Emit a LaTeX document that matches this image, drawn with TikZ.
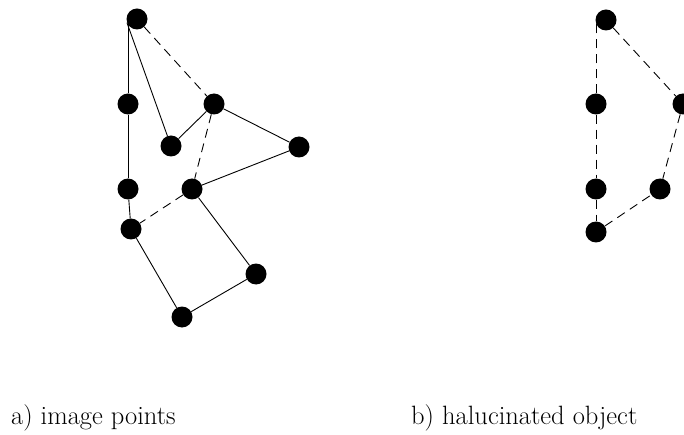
\documentclass[tikz,border=0pt]{standalone}
\begin{document}
\begin{tikzpicture}[x=1pt,y=-1pt,
  dot/.style={circle,fill=black,inner sep=0pt,minimum size=21pt},
  edge/.style={line width=0.9pt},
  dedge/.style={line width=0.9pt,dash pattern=on 9pt off 6pt},
  lbl/.style={anchor=base west,inner sep=0pt,font=\fontsize{26.5}{30}\selectfont}]
\useasboundingbox (0,0) rectangle (684,435);
% left graph
\node[dot] (A) at (137,19) {};
\node[dot] (B) at (128,104) {};
\node[dot] (C) at (214,104) {};
\node[dot] (D) at (171,146) {};
\node[dot] (E) at (299,147) {};
\node[dot] (F) at (128,189) {};
\node[dot] (G) at (192,189) {};
\node[dot] (H) at (131,229) {};
\node[dot] (I) at (256,274) {};
\node[dot] (J) at (182,317) {};
\coordinate (Atop) at (B |- A);
\draw[edge] (B) -- (Atop);
\draw[edge] (A.200) -- (D);
\draw[edge] (D) -- (C);
\draw[edge] (C) -- (E);
\draw[edge] (E) -- (G);
\draw[edge] (B) -- (F);
\draw[edge] (F) -- (H);
\draw[edge] (H) -- (J);
\draw[edge] (J) -- (I);
\draw[edge] (I) -- (G);
\draw[dedge] (A) -- (C);
\draw[dedge] (C) -- (G);
\draw[dedge] (G) -- (H);
% right graph
\node[dot] (RA) at (606,20) {};
\node[dot] (RB) at (596,104) {};
\node[dot] (RC) at (683,104) {};
\node[dot] (RF) at (596,189) {};
\node[dot] (RG) at (660,189) {};
\node[dot] (RH) at (596,232) {};
\coordinate (RAtop) at (RB |- RA);
\draw[dedge] (RB) -- (RAtop);
\draw[dedge] (RA) -- (RC);
\draw[dedge] (RC) -- (RG);
\draw[dedge] (RB) -- (RF);
\draw[dedge] (RF) -- (RH);
\draw[dedge] (RH) -- (RG);
% labels
\node[lbl] (la) at (11,424) {a) image points};
\node[lbl] (lb) at (411,424) {b) halucinated object};
\end{tikzpicture}
\end{document}
